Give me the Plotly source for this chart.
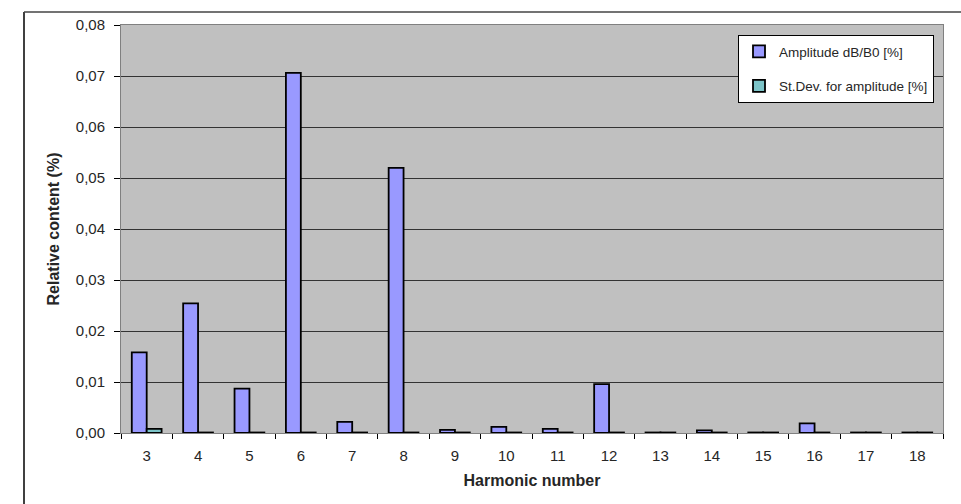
import plotly.graph_objects as go

harmonics = ["3", "4", "5", "6", "7", "8", "9", "10", "11", "12", "13", "14", "15", "16", "17", "18"]
amplitude = [0.0158, 0.0254, 0.0087, 0.0706, 0.0022, 0.0520, 0.0006, 0.0012, 0.0008, 0.0096,
             0.0001, 0.0005, 0.0001, 0.0019, 0.0001, 0.0001]
stdev = [0.0008, 0.0001, 0.0001, 0.0001, 0.0001, 0.0001, 0.0001, 0.0001, 0.0001, 0.0001,
         0.0001, 0.0001, 0.0001, 0.0001, 0.0001, 0.0001]
y_ticks = [0.00, 0.01, 0.02, 0.03, 0.04, 0.05, 0.06, 0.07, 0.08]

font = "Liberation Sans, Arial, sans-serif"
txt = "#262626"

fig = go.Figure()
fig.add_trace(go.Bar(x=harmonics, y=amplitude, name="Amplitude dB/B0 [%]",
                     marker=dict(color="#9999FF", line=dict(color="black", width=1.8)),
                     legendgroup="a"))
fig.add_trace(go.Bar(x=harmonics, y=stdev, name="St.Dev. for amplitude [%]",
                     marker=dict(color="#7CC4C8", line=dict(color="black", width=1.8)),
                     legendgroup="b"))

L, R, T, B = 121, 18, 25, 71
W, H = 961, 504
pw, ph = W - L - R, H - T - B

def px(x):
    return (x - L) / pw

def py(y):
    return (H - B - y) / ph

fig.update_layout(
    width=W, height=H,
    margin=dict(l=L, r=R, t=T, b=B, pad=0),
    paper_bgcolor="white",
    plot_bgcolor="#C0C0C0",
    separators=", ",
    barmode="group",
    bargap=0.42,
    bargroupgap=0,
    font=dict(family=font, size=15, color=txt),
    legend=dict(x=px(738), y=py(35), xanchor="left", yanchor="top",
                bgcolor="white", bordercolor="black", borderwidth=1,
                font=dict(family=font, size=13.5, color=txt),
                traceorder="grouped", tracegroupgap=14,
                itemwidth=30),
    xaxis=dict(type="category", tickson="boundaries", ticks="outside", ticklen=5,
               tickcolor="black", showgrid=False, showline=True, linecolor="#808080",
               linewidth=1, mirror=True, ticklabelstandoff=9,
               title=dict(text="<b>Harmonic number</b>", font=dict(family=font, size=16, color=txt),
                          standoff=11),
               tickfont=dict(family=font, size=15, color=txt)),
    yaxis=dict(range=[0, 0.08], tickvals=y_ticks, tickformat=".2f", ticks="outside",
               ticklen=6, tickcolor="black", showgrid=True, gridcolor="#333333", gridwidth=1,
               showline=True, linecolor="#808080", linewidth=1, mirror=True, zeroline=False,
               ticklabelstandoff=6,
               title=dict(text="<b>Relative content (%)</b>", font=dict(family=font, size=16, color=txt),
                          standoff=12),
               tickfont=dict(family=font, size=15, color=txt)),
    shapes=[
        dict(type="line", xref="paper", yref="paper", x0=px(24), x1=px(24), y0=py(12), y1=py(520),
             line=dict(color="black", width=1.5)),
        dict(type="line", xref="paper", yref="paper", x0=px(24), x1=px(975), y0=py(12), y1=py(12),
             line=dict(color="#444", width=1.5)),
    ],
)

fig.write_html("out.html", config={"displayModeBar": False},
               post_script="document.body.style.margin='0';document.body.style.overflow='hidden';")
